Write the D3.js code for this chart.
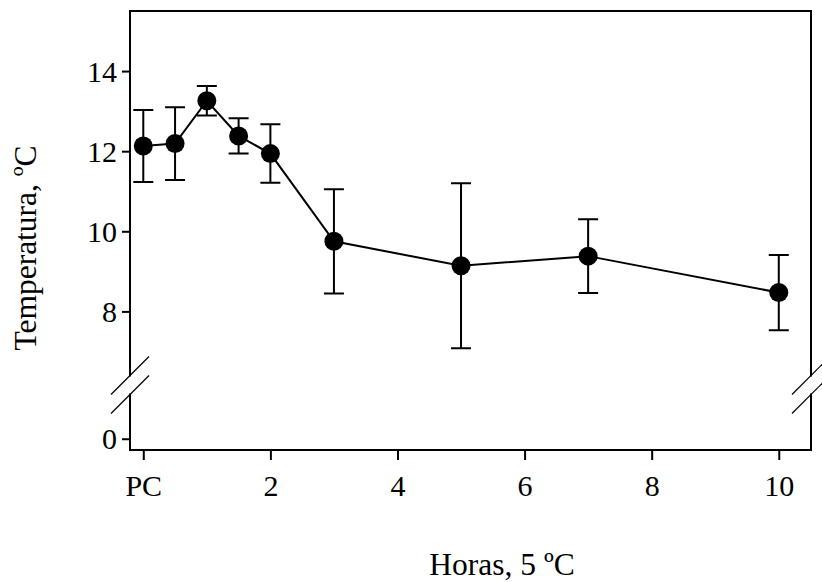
<!DOCTYPE html>
<html>
<head>
<meta charset="utf-8">
<script src="https://cdn.jsdelivr.net/npm/d3@7"></script>
<style>
  html, body { margin: 0; padding: 0; background: #fff; }
  svg { display: block; }
  text { font-family: "Liberation Serif", "Times New Roman", serif; fill: #000; }
</style>
</head>
<body>
<svg id="chart" width="822" height="582"></svg>
<script>
// Hours of exposure at 5 ºC (0 = PC)
const hours = [0, 0.5, 1, 1.5, 2, 3, 5, 7, 10];
// Mean temperature, ºC
const meanTemp = [12.13, 12.19, 13.26, 12.38, 11.94, 9.75, 9.14, 9.38, 8.47];
// Error half-width, ºC
const errTemp = [0.90, 0.91, 0.37, 0.44, 0.73, 1.30, 2.06, 0.92, 0.94];

const xTickValues = [0, 2, 4, 6, 8, 10];
const xTickLabels = ["PC", "2", "4", "6", "8", "10"];
const yTickValues = [0, 8, 10, 12, 14];

const svg = d3.select("#chart");
const plotL = 130, plotR = 811, plotT = 11, plotB = 450;
const gapTop = 375.5, gapBottom = 394.5;

const x = d3.scaleLinear().domain([-0.209, 10.507]).range([plotL, plotR]);
// Broken value axis: a short segment around 0, then 6.4 upward
const y = d3.scaleLinear()
  .domain([-0.28, 1.1, 6.4, 15.5])
  .range([plotB, gapBottom, gapTop, plotT]);

const tickFont = 30;
const titleFont = 31.5;

// Frame with a break in both vertical sides
const frame = svg.append("g").attr("stroke", "#000").attr("stroke-width", 2).attr("fill", "none");
frame.append("path").attr("d",
  `M${plotL},${gapTop}V${plotT}H${plotR}V${gapTop}` +
  `M${plotL},${gapBottom}V${plotB}H${plotR}V${gapBottom}`)
  .attr("stroke-linecap", "square");

// Break marks
const brk = svg.append("g").attr("stroke", "#000").attr("stroke-width", 1.2);
[plotL, plotR].forEach(cx => {
  [gapTop, gapBottom].forEach(cy => {
    brk.append("line")
      .attr("x1", cx - 19).attr("y1", cy + 19)
      .attr("x2", cx + 19).attr("y2", cy - 19);
  });
});

// Y axis
const yAxis = svg.append("g")
  .attr("transform", `translate(${plotL},0)`)
  .call(d3.axisLeft(y).tickValues(yTickValues).tickSize(8).tickSizeOuter(0).tickPadding(5));
yAxis.select(".domain").remove();
yAxis.selectAll(".tick line").attr("stroke", "#000").attr("stroke-width", 2);
yAxis.selectAll(".tick text")
  .attr("font-family", "Liberation Serif, Times New Roman, serif")
  .attr("font-size", tickFont).attr("dy", "0.34em");

// X axis
const xAxis = svg.append("g")
  .attr("transform", `translate(0,${plotB})`)
  .call(d3.axisBottom(x).tickValues(xTickValues).tickSize(10).tickSizeOuter(0)
    .tickFormat((d, i) => xTickLabels[i]));
xAxis.select(".domain").remove();
xAxis.selectAll(".tick line").attr("stroke", "#000").attr("stroke-width", 2);
xAxis.selectAll(".tick text")
  .attr("font-family", "Liberation Serif, Times New Roman, serif")
  .attr("font-size", tickFont).attr("y", 45.5).attr("dy", 0);

// Axis titles
svg.append("text")
  .attr("x", 502).attr("y", 575)
  .attr("text-anchor", "middle").attr("font-size", titleFont)
  .text("Horas, 5 ºC");
svg.append("text")
  .attr("transform", "translate(36,248) rotate(-90)")
  .attr("text-anchor", "middle").attr("font-size", titleFont)
  .text("Temperatura, ºC");

const data = hours.map((h, i) => ({ h, m: meanTemp[i], e: errTemp[i] }));

// Error bars
const eb = svg.append("g").attr("stroke", "#000").attr("stroke-width", 2).attr("fill", "none");
data.forEach(d => {
  const cx = x(d.h), y1 = y(d.m + d.e), y2 = y(d.m - d.e);
  eb.append("path").attr("d",
    `M${cx},${y1}V${y2}M${cx - 10},${y1}H${cx + 10}M${cx - 10},${y2}H${cx + 10}`);
});

// Connecting line
svg.append("path")
  .datum(data)
  .attr("fill", "none").attr("stroke", "#000").attr("stroke-width", 2)
  .attr("d", d3.line().x(d => x(d.h)).y(d => y(d.m)));

// Markers
svg.append("g").selectAll("circle")
  .data(data).join("circle")
  .attr("cx", d => x(d.h)).attr("cy", d => y(d.m))
  .attr("r", 9.5).attr("fill", "#000");
</script>
</body>
</html>
